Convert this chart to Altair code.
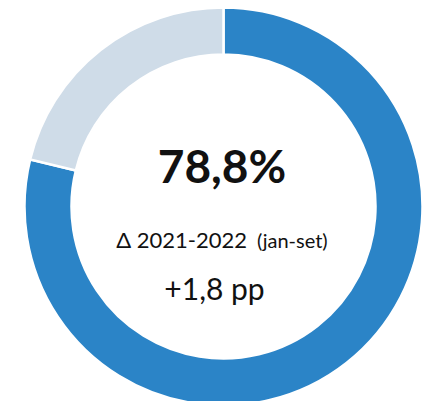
import altair as alt
import pandas as pd

# Data
categories = ["Realizado", "Restante"]
values = [78.8, 21.2]
colors = ["#2B84C7", "#CFDCE8"]

main_label = "78,8%"
delta_label = "Δ 2021-2022"
period_label = "(jan-set)"
change_label = "+1,8 pp"

df = pd.DataFrame({"categoria": categories, "valor": values, "ordem": list(range(len(categories)))})

cx, cy = 215.5, 198.5

donut = alt.Chart(df).mark_arc(outerRadius=199, innerRadius=152, stroke="white", strokeWidth=2.5).encode(
    theta=alt.Theta("valor:Q", stack=True),
    color=alt.Color("categoria:N", scale=alt.Scale(domain=categories, range=colors), legend=None),
    order=alt.Order("ordem:Q"),
    x=alt.value(cx),
    y=alt.value(cy),
)

one = pd.DataFrame({"k": [0]})

def txt(text, x, y, size, weight="normal", align="center"):
    return alt.Chart(one).mark_text(
        text=text, font="Lato", fontSize=size, fontWeight=weight, align=align,
        baseline="alphabetic", color="#111111"
    ).encode(x=alt.value(x), y=alt.value(y))

t1 = txt(main_label, 214, 175, 46, "bold")
t2 = txt(delta_label, 239, 240, 22, align="right")
t3 = txt(period_label, 249, 240, 20, align="left")
t4 = txt(change_label, 206.5, 292, 30)

chart = alt.layer(donut, t1, t2, t3, t4).properties(
    width=415, height=393, padding=0, autosize="none"
).configure_view(stroke=None)

chart.save("out.html", embed_options={"renderer": "svg", "actions": False})
